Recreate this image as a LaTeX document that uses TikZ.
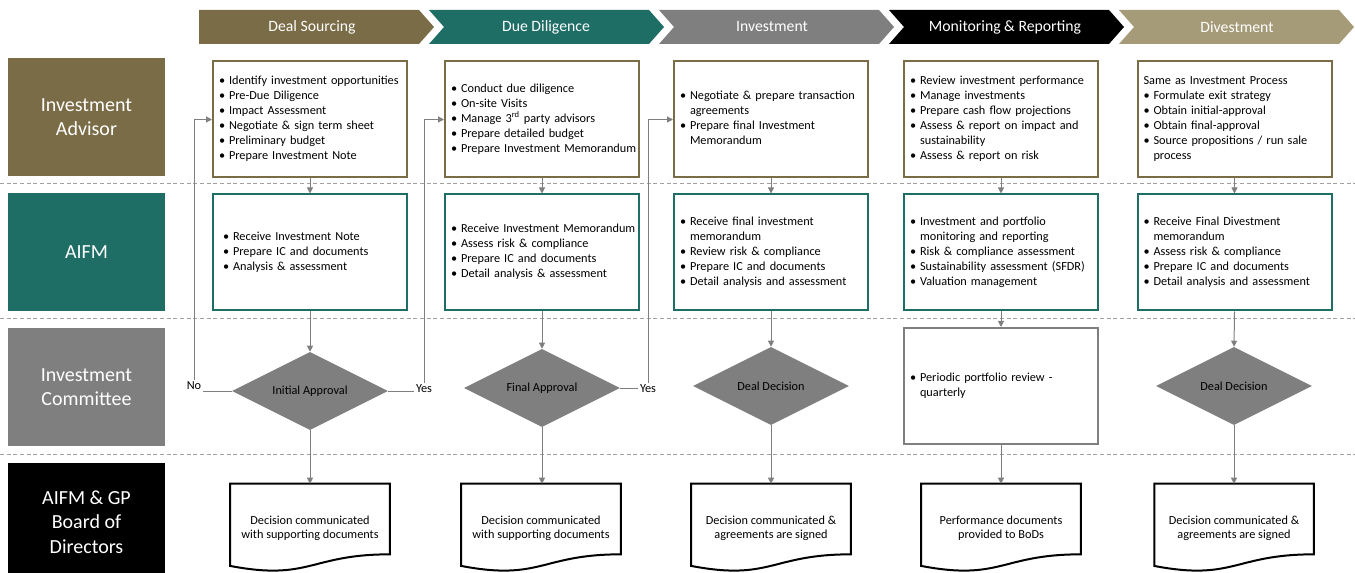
\documentclass[tikz,border=0pt]{standalone}
\usepackage{fontspec}
\setmainfont{Carlito}
\usetikzlibrary{arrows.meta,shapes.geometric,calc}
\definecolor{cOlive}{HTML}{7A6C47}
\definecolor{cTeal}{HTML}{1F6E66}
\definecolor{cGray}{HTML}{7F7F7F}
\definecolor{cTan}{HTML}{A69B78}
\definecolor{cDash}{HTML}{A0A0A0}
\newcommand{\bodyfont}{\fontsize{9.2}{11.25}\selectfont}
\newcommand{\bu}{\makebox[7.5pt][l]{\textbullet}}
\newcommand{\ct}{\hspace*{7.5pt}}
\newcommand{\lst}[1]{\begin{tabular}{@{}l@{}}#1\end{tabular}}
\newcommand{\docshape}[1]{\draw[docline] (#1.north west) -- (#1.north east) -- ($(#1.north east)+(0,70.6)$) .. controls ($(#1.north)+(0,70.6)$) and ($(#1.north)+(0,97.4)$) .. ($(#1.north west)+(0,82.2)$) -- cycle;}
\begin{document}
\begin{tikzpicture}[x=0.75pt,y=-0.75pt,
  hdrtext/.style={text=white,font=\fontsize{11.8}{13}\selectfont},
  lab/.style={fill=#1,text=white,minimum width=117.75pt,minimum height=88.5pt,inner sep=0pt,align=center,font=\fontsize{15}{18.5}\selectfont},
  stepbox/.style={draw=#1,line width=1.5pt,minimum width=145.5pt,minimum height=87pt,text width=136.5pt,inner xsep=4.5pt,inner ysep=0pt,align=left,font=\bodyfont},
  dec/.style={diamond,aspect=2,fill=cGray,inner sep=0pt,minimum width=117pt,minimum height=58.5pt,font=\bodyfont},
  doc/.style={minimum width=119.25pt,minimum height=66pt,inner sep=0pt,align=center,font=\fontsize{9.2}{10.5}\selectfont},
  docline/.style={draw=black,line width=1.5pt},
  conn/.style={draw=cGray,line width=0.75pt,-{Triangle[length=4.5pt,width=4.5pt]}},
  plain/.style={draw=cGray,line width=0.75pt},
  sep/.style={draw=cDash,line width=0.75pt,dash pattern=on 3pt off 2pt},
  yn/.style={font=\bodyfont,inner sep=1pt}]
\useasboundingbox (0,0) rectangle (1355,573);

% header chevrons
\fill[cOlive] (199,10) -- (419,10) -- (434,27) -- (419,44) -- (199,44) -- cycle;
\fill[cTeal] (429,10) -- (649,10) -- (664,27) -- (649,44) -- (429,44) -- (444,27) -- cycle;
\fill[cGray] (659,10) -- (879,10) -- (894,27) -- (879,44) -- (659,44) -- (674,27) -- cycle;
\fill[black] (889,10) -- (1109,10) -- (1124,27) -- (1109,44) -- (889,44) -- (904,27) -- cycle;
\fill[cTan] (1119,10) -- (1339,10) -- (1354,27) -- (1339,44) -- (1119,44) -- (1134,27) -- cycle;
\node[hdrtext] (h1) at (312,27) {Deal Sourcing};
\node[hdrtext] (h2) at (546,27) {Due Diligence};
\node[hdrtext] (h3) at (772,27) {Investment};
\node[hdrtext] (h4) at (1005,27) {Monitoring \& Reporting};
\node[hdrtext] (h5) at (1237,27) {Divestment};

% separators
\draw[sep] (0,184) -- (1355,184);
\draw[sep] (0,319) -- (1355,319);
\draw[sep] (0,454) -- (1355,454);

% lane labels
\node[lab=cOlive] (L1) at (86.5,117) {Investment\\Advisor};
\node[lab=cTeal] (L2) at (86.5,252) {AIFM};
\node[lab=cGray] (L3) at (86.5,387) {Investment\\Committee};
\node[lab=black,font=\fontsize{15}{18.4}\selectfont] (L4) at (86.5,522) {AIFM \& GP\\Board of\\Directors};

% row 1
\node[stepbox=cOlive] (a1) at (310,119.5) {\lst{\bu Identify investment opportunities\\ \bu Pre-Due Diligence\\ \bu Impact Assessment\\ \bu Negotiate \& sign term sheet\\ \bu Preliminary budget\\ \bu Prepare Investment Note}};
\node[stepbox=cOlive] (a2) at (542,119.5) {\lst{\bu Conduct due diligence\\ \bu On-site Visits\\ \bu Manage 3\textsuperscript{rd} party advisors\\ \bu Prepare detailed budget\\ \bu Prepare Investment Memorandum}};
\node[stepbox=cOlive] (a3) at (771,119.5) {\lst{\bu Negotiate \& prepare transaction\\ \ct agreements\\ \bu Prepare final Investment\\ \ct Memorandum}};
\node[stepbox=cOlive] (a4) at (1001,119.5) {\lst{\bu Review investment performance\\ \bu Manage investments\\ \bu Prepare cash flow projections\\ \bu Assess \& report on impact and\\ \ct sustainability\\ \bu Assess \& report on risk}};
\node[stepbox=cOlive] (a5) at (1234.5,119.5) {\lst{Same as Investment Process\\ \bu Formulate exit strategy\\ \bu Obtain initial-approval\\ \bu Obtain final-approval\\ \bu Source propositions / run sale\\ \ct process}};

% row 2
\node[stepbox=cTeal] (b1) at (310,252.5) {\lst{\hspace*{3pt}\bu Receive Investment Note\\ \hspace*{3pt}\bu Prepare IC and documents\\ \hspace*{3pt}\bu Analysis \& assessment}};
\node[stepbox=cTeal] (b2) at (542,252.5) {\lst{\bu Receive Investment Memorandum\\ \bu Assess risk \& compliance\\ \bu Prepare IC and documents\\ \bu Detail analysis \& assessment}};
\node[stepbox=cTeal] (b3) at (771,252.5) {\lst{\bu Receive final investment\\ \ct memorandum\\ \bu Review risk \& compliance\\ \bu Prepare IC and documents\\ \bu Detail analysis and assessment}};
\node[stepbox=cTeal] (b4) at (1001,252.5) {\lst{\bu Investment and portfolio\\ \ct monitoring and reporting\\ \bu Risk \& compliance assessment\\ \bu Sustainability assessment (SFDR)\\ \bu Valuation management}};
\node[stepbox=cTeal] (b5) at (1234.5,252.5) {\lst{\bu Receive Final Divestment\\ \ct memorandum\\ \bu Assess risk \& compliance\\ \bu Prepare IC and documents\\ \bu Detail analysis and assessment}};

% row 3
\node[dec] (c1) at (310,391) {Initial Approval};
\node[dec] (c2) at (542,388) {Final Approval};
\node[dec] (c3) at (771,386) {Deal Decision};
\node[stepbox=cGray] (c4) at (1001,386) {\lst{\bu Periodic portfolio review -\\ \ct quarterly}};
\node[dec] (c5) at (1234,386) {Deal Decision};

% row 4
\node[doc] (d1) at (310,528) {Decision communicated\\with supporting documents};
\node[doc] (d2) at (541,528) {Decision communicated\\with supporting documents};
\node[doc] (d3) at (771,528) {Decision communicated \&\\agreements are signed};
\node[doc] (d4) at (1001,528) {Performance documents\\provided to BoDs};
\node[doc] (d5) at (1234,528) {Decision communicated \&\\agreements are signed};
\docshape{d1}\docshape{d2}\docshape{d3}\docshape{d4}\docshape{d5}

% vertical flow
\foreach \i in {1,...,5} {\draw[conn] (a\i.south) -- (b\i.north);}
\foreach \i in {1,...,5} {\draw[conn] (b\i.south) -- (c\i.north);}
\foreach \i in {1,...,5} {\draw[conn] (c\i.south) -- (c\i.south |- d\i.north);}

% decisions feedback
\node[yn] (no) at (194,386) {No};
\node[yn] (yes1) at (424,389) {Yes};
\node[yn] (yes2) at (648,389) {Yes};
\draw[plain] (c1.west) -- (c1.west -| no.east);
\draw[conn] (no.north) |- (a1.west);
\draw[plain] (c1.east) -- (c1.east -| yes1.west);
\draw[conn] (yes1.north) |- (a2.west);
\draw[plain] (c2.east) -- (c2.east -| yes2.west);
\draw[conn] (yes2.north) |- (a3.west);
\end{tikzpicture}
\end{document}
